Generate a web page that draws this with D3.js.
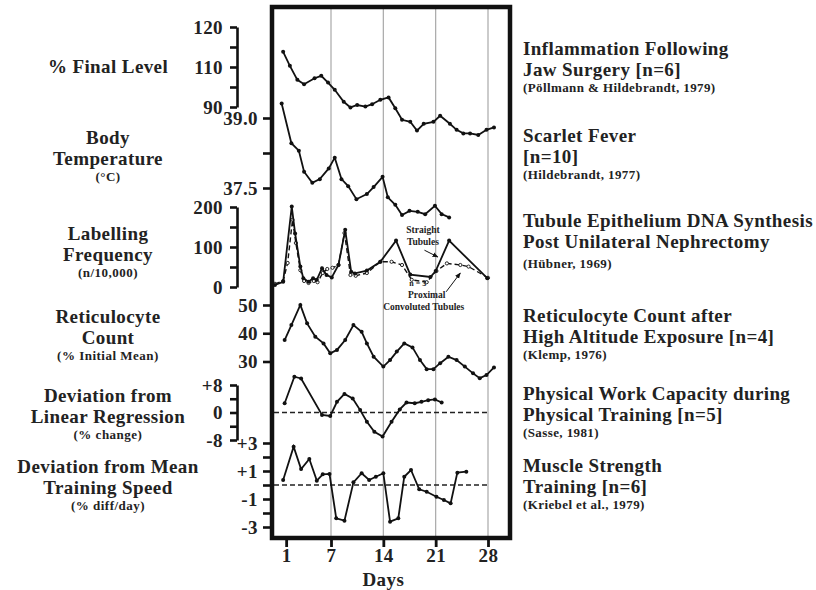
<!DOCTYPE html>
<html>
<head>
<meta charset="utf-8">
<script src="https://cdn.jsdelivr.net/npm/d3@7"></script>
<style>
  body { margin: 0; background: #fff; }
  text { font-family: "Liberation Serif", "Times New Roman", serif; font-weight: bold; fill: #222; }
</style>
</head>
<body>
<div id="chart"></div>
<script>
{
  const width = 816;
  const height = 590;

  // x axis
  const dayTicks = [1, 7, 14, 21, 28];
  const gridDays = [7, 14, 21, 28];

  // inflammation following jaw surgery (% final level)
  const jawDays = [0.6, 1.5, 2.5, 3.4, 4.8, 5.7, 6.6, 7.5, 8.7, 9.6, 10.5, 11.6, 12.5, 13.6, 14.7, 15.6, 16.5, 17.6, 18.5, 19.4, 20.7, 21.6, 22.9, 23.8, 24.7, 25.6, 26.7, 27.8, 28.8];
  const jawValues = [113.8, 110.3, 106.8, 105.7, 107.2, 107.8, 106.1, 104.3, 101.3, 99.9, 100.5, 100.1, 100.7, 101.8, 102.4, 99.7, 96.8, 96.3, 94.1, 95.8, 96.3, 97.8, 95.8, 94.3, 93.4, 93.4, 93.0, 94.3, 94.9];
  const jawTicks = [100, 105, 110, 115, 120];
  const jawTickLabels = ["90", "", "110", "", "120"];

  // scarlet fever body temperature
  const tempDays = [0.4, 1.7, 2.7, 3.4, 4.5, 5.5, 6.7, 7.5, 8.4, 9.3, 10.4, 11.8, 12.7, 13.9, 14.6, 15.6, 16.5, 17.5, 18.6, 19.6, 20.9, 21.8, 22.8];
  const tempValues = [39.31, 38.46, 38.30, 37.85, 37.61, 37.69, 37.92, 38.15, 37.69, 37.54, 37.26, 37.37, 37.52, 37.74, 37.30, 37.14, 36.92, 37.01, 36.99, 36.94, 37.12, 36.94, 36.87];
  const tempTicks = [37.5, 38.25, 39.0];
  const tempTickLabels = ["37.5", "", "39.0"];

  // tubule epithelium DNA synthesis (labelling frequency)
  const straightDays = [-0.5, 0.6, 1.75, 2.2, 2.9, 3.3, 4.0, 4.6, 5.1, 5.8, 6.4, 7.1, 8.0, 8.9, 9.7, 10.2, 11.8, 13.6, 15.7, 17.6, 20.3, 21.0, 22.8, 27.9];
  const straightValues = [5, 13, 201, 134, 51, 22, 13, 22, 18, 47, 30, 24, 55, 143, 38, 34, 41, 63, 116, 31, 25, 40, 116, 22];
  const proximalDays = [-0.5, 0.6, 1.2, 1.85, 2.3, 2.9, 3.4, 4.0, 4.7, 5.2, 5.9, 6.5, 7.2, 8.0, 8.8, 9.6, 10.3, 11.8, 13.6, 15.1, 16.5, 17.8, 19.8, 21.1, 22.5, 24.3, 25.4, 28.0];
  const proximalValues = [8, 15, 60, 168, 110, 42, 15, 10, 15, 12, 35, 45, 48, 55, 135, 30, 28, 35, 63, 63, 55, 18, 12, 40, 59, 55, 51, 23];
  const labTicks = [0, 50, 100, 150, 200];
  const labTickLabels = ["0", "", "100", "", "200"];

  // reticulocyte count after high altitude exposure
  const retDays = [0.8, 1.7, 2.9, 3.8, 4.9, 6.0, 6.9, 7.8, 8.9, 10.0, 11.1, 11.8, 12.7, 14.0, 14.9, 15.8, 16.8, 17.9, 18.9, 19.8, 20.7, 21.6, 22.7, 23.8, 24.9, 26.0, 26.9, 27.8, 28.8];
  const retValues = [37.6, 42.9, 50.0, 43.5, 38.8, 36.4, 32.9, 34.1, 37.6, 42.9, 40.5, 36.4, 31.7, 28.2, 30.5, 33.5, 36.4, 35.0, 30.5, 27.3, 27.3, 29.4, 31.7, 30.5, 28.2, 25.8, 24.1, 25.2, 27.9];
  const retTicks = [30, 40, 50];
  const retTickLabels = ["30", "40", "50"];

  // physical work capacity, deviation from linear regression
  const regDays = [0.8, 2.1, 3.0, 5.8, 6.9, 7.8, 8.8, 9.9, 10.9, 11.8, 12.8, 13.9, 15.1, 16.2, 17.1, 18.2, 19.1, 20.0, 20.9, 21.8];
  const regValues = [2.7, 10.4, 9.9, -0.7, -1.0, 3.1, 5.4, 4.1, 0.7, -2.7, -5.6, -7.0, -2.7, 0.9, 2.9, 2.7, 3.1, 3.6, 3.8, 2.9];
  const regTicks = [-8, -4, 0, 4, 8];
  const regTickLabels = ["-8", "", "0", "", "+8"];

  // muscle strength training, deviation from mean training speed
  const musDays = [0.6, 2.0, 3.0, 4.1, 5.1, 5.9, 6.8, 7.7, 8.8, 10.0, 11.1, 12.1, 13.0, 14.0, 14.9, 16.0, 16.8, 17.7, 18.8, 19.8, 21.1, 22.1, 23.0, 23.9, 25.1];
  const musValues = [0.36, 2.74, 1.14, 1.86, 0.31, 0.76, 0.79, -2.38, -2.55, 0.19, 0.84, 0.36, 0.59, 0.84, -2.62, -2.38, 0.59, 1.07, -0.31, -0.48, -0.84, -1.07, -1.31, 0.88, 0.95];
  const musTicks = [-3, -2, -1, 0, 1, 2, 3];
  const musTickLabels = ["-3", "", "-1", "", "+1", "", "+3"];

  // texts
  const leftTitles = [
    ["% Final Level"],
    ["Body", "Temperature"],
    ["Labelling", "Frequency"],
    ["Reticulocyte", "Count"],
    ["Deviation from", "Linear Regression"],
    ["Deviation from Mean", "Training Speed"]
  ];
  const leftUnits = [null, "(°C)", "(n/10,000)", "(% Initial Mean)", "(% change)", "(% diff/day)"];
  const rightTitles = [
    ["Inflammation Following", "Jaw Surgery [n=6]"],
    ["Scarlet Fever", "[n=10]"],
    ["Tubule Epithelium DNA Synthesis", "Post Unilateral Nephrectomy"],
    ["Reticulocyte Count after", "High Altitude Exposure [n=4]"],
    ["Physical Work Capacity during", "Physical Training [n=5]"],
    ["Muscle Strength", "Training [n=6]"]
  ];
  const rightSources = ["(Pöllmann & Hildebrandt, 1979)", "(Hildebrandt, 1977)", "(Hübner, 1969)",
    "(Klemp, 1976)", "(Sasse, 1981)", "(Kriebel et al., 1979)"];

  const frame = { left: 272, top: 7, right: 510, bottom: 538 };

  const svg = d3.select("#chart").append("svg")
    .attr("width", width)
    .attr("height", height);

  const x = d3.scaleLinear().domain([7, 28]).range([331, 488]);
  const yJaw = d3.scaleLinear().domain([100, 120]).range([107, 27]);
  const yTemp = d3.scaleLinear().domain([37.5, 39.0]).range([188, 118]);
  const yLab = d3.scaleLinear().domain([0, 200]).range([287, 207]);
  const yRet = d3.scaleLinear().domain([30, 50]).range([361.5, 305]);
  const yReg = d3.scaleLinear().domain([-8, 8]).range([440, 385]);
  const yMus = d3.scaleLinear().domain([-3, 3]).range([527, 443]);

  // grid lines
  svg.append("g").selectAll("line")
    .data(gridDays)
    .enter().append("line")
    .attr("x1", d => x(d)).attr("x2", d => x(d))
    .attr("y1", frame.top).attr("y2", frame.bottom)
    .attr("stroke", "#a8a8a8")
    .attr("stroke-width", 1.2);

  // zero reference lines
  [yReg, yMus].forEach(ys => {
    svg.append("line")
      .attr("x1", frame.left + 2).attr("x2", x(28))
      .attr("y1", ys(0)).attr("y2", ys(0))
      .attr("stroke", "#222")
      .attr("stroke-width", 1.4)
      .attr("stroke-dasharray", "5,3");
  });

  function styleTickText(g) {
    g.selectAll("text")
      .attr("font-family", null)
      .attr("font-size", 19)
      .attr("letter-spacing", 0.4)
      .attr("fill", "#222");
  }

  // y axes: bracket style sits left of the frame, the others hang on the frame
  function bracketAxis(scale, ticks, labels) {
    const g = svg.append("g")
      .attr("transform", "translate(237,0)")
      .call(d3.axisLeft(scale).tickValues(ticks).tickSize(7).tickSizeOuter(0).tickPadding(7)
        .tickFormat((d, i) => labels[i]));
    g.select(".domain").attr("stroke", "#111").attr("stroke-width", 2.6);
    g.selectAll(".tick line").attr("stroke", "#111").attr("stroke-width", 2.6);
    styleTickText(g);
  }

  function frameAxis(scale, ticks, labels) {
    const g = svg.append("g")
      .attr("transform", "translate(" + frame.left + ",0)")
      .call(d3.axisLeft(scale).tickValues(ticks).tickSize(9).tickPadding(5)
        .tickFormat((d, i) => labels[i]));
    g.select(".domain").remove();
    g.selectAll(".tick line").attr("stroke", "#111").attr("stroke-width", 2.6);
    styleTickText(g);
  }

  bracketAxis(yJaw, jawTicks, jawTickLabels);
  frameAxis(yTemp, tempTicks, tempTickLabels);
  bracketAxis(yLab, labTicks, labTickLabels);
  frameAxis(yRet, retTicks, retTickLabels);
  bracketAxis(yReg, regTicks, regTickLabels);
  frameAxis(yMus, musTicks, musTickLabels);

  // x axis
  const xAxis = svg.append("g")
    .attr("transform", "translate(0," + frame.bottom + ")")
    .call(d3.axisBottom(x).tickValues(dayTicks).tickSize(9).tickPadding(2));
  xAxis.select(".domain").remove();
  xAxis.selectAll(".tick line").attr("stroke", "#111").attr("stroke-width", 2.8);
  styleTickText(xAxis);

  svg.append("text")
    .attr("x", x(14)).attr("y", 586)
    .attr("text-anchor", "middle")
    .attr("font-size", 19)
    .attr("letter-spacing", 0.4)
    .text("Days");

  // series
  function drawSeries(days, values, ys, dashed) {
    const pts = d3.zip(days, values);
    const line = d3.line().x(d => x(d[0])).y(d => ys(d[1]));
    svg.append("path")
      .datum(pts)
      .attr("d", line)
      .attr("fill", "none")
      .attr("stroke", "#111")
      .attr("stroke-width", dashed ? 1.4 : 1.8)
      .attr("stroke-dasharray", dashed ? "5,3" : null);
    svg.append("g").selectAll("circle")
      .data(pts)
      .enter().append("circle")
      .attr("cx", d => x(d[0]))
      .attr("cy", d => ys(d[1]))
      .attr("r", dashed ? 1.6 : 2)
      .attr("fill", dashed ? "#fff" : "#111")
      .attr("stroke", "#111")
      .attr("stroke-width", dashed ? 0.9 : 0);
  }

  drawSeries(jawDays, jawValues, yJaw, false);
  drawSeries(tempDays, tempValues, yTemp, false);
  drawSeries(proximalDays, proximalValues, yLab, true);
  drawSeries(straightDays, straightValues, yLab, false);
  drawSeries(retDays, retValues, yRet, false);
  drawSeries(regDays, regValues, yReg, false);
  drawSeries(musDays, musValues, yMus, false);

  // tubule annotations
  svg.append("defs").append("marker")
    .attr("id", "arrow")
    .attr("viewBox", "0 0 10 10")
    .attr("refX", 9).attr("refY", 5)
    .attr("markerWidth", 6).attr("markerHeight", 6)
    .attr("orient", "auto")
    .append("path")
    .attr("d", "M0,1 L10,5 L0,9 z")
    .attr("fill", "#111");

  const note = svg.append("g").attr("font-size", 9.5);
  note.append("text").attr("x", x(19.3)).attr("y", yLab(135)).attr("text-anchor", "middle").text("Straight");
  note.append("text").attr("x", x(19.3)).attr("y", yLab(105)).attr("text-anchor", "middle").text("Tubules");
  note.append("text").attr("x", x(19.8)).attr("y", yLab(-27.5)).attr("text-anchor", "middle").text("Proximal");
  note.append("text").attr("x", x(19.4)).attr("y", yLab(-57.5)).attr("text-anchor", "middle").text("Convoluted Tubules");
  note.append("text").attr("x", x(18.6)).attr("y", yLab(2)).attr("text-anchor", "middle")
    .attr("font-size", 8).text("n = 3");
  note.append("line")
    .attr("x1", x(19.5)).attr("y1", yLab(92))
    .attr("x2", x(21.3)).attr("y2", yLab(75))
    .attr("stroke", "#111").attr("stroke-width", 1)
    .attr("marker-end", "url(#arrow)");
  note.append("line")
    .attr("x1", x(22.4)).attr("y1", yLab(-12))
    .attr("x2", x(24.3)).attr("y2", yLab(35))
    .attr("stroke", "#111").attr("stroke-width", 1)
    .attr("marker-end", "url(#arrow)");

  // frame
  svg.append("rect")
    .attr("x", frame.left).attr("y", frame.top)
    .attr("width", frame.right - frame.left)
    .attr("height", frame.bottom - frame.top)
    .attr("fill", "none")
    .attr("stroke", "#111")
    .attr("stroke-width", 4.5);

  // left titles
  const leftTitleY = [73, 144, 240, 323, 402, 473];
  leftTitles.forEach((lines, i) => {
    lines.forEach((t, j) => {
      svg.append("text")
        .attr("x", 108).attr("y", leftTitleY[i] + j * 21)
        .attr("text-anchor", "middle")
        .attr("font-size", 19)
        .attr("letter-spacing", 0.4)
        .text(t);
    });
    if (leftUnits[i]) {
      svg.append("text")
        .attr("x", 108).attr("y", leftTitleY[i] + lines.length * 21 - 5)
        .attr("text-anchor", "middle")
        .attr("font-size", 13)
        .attr("letter-spacing", 0.5)
        .text(leftUnits[i]);
    }
  });

  // right titles
  const rightTitleY = [55, 142, 227, 322, 400, 472];
  rightTitles.forEach((lines, i) => {
    lines.forEach((t, j) => {
      svg.append("text")
        .attr("x", 523).attr("y", rightTitleY[i] + j * 20.5)
        .attr("font-size", 19)
        .attr("letter-spacing", 0.4)
        .text(t);
    });
    svg.append("text")
      .attr("x", 523).attr("y", rightTitleY[i] + 20.5 + (i === 2 ? 20 : 16))
      .attr("font-size", 13)
      .attr("letter-spacing", 0.4)
      .text(rightSources[i]);
  });
}
</script>
</body>
</html>
